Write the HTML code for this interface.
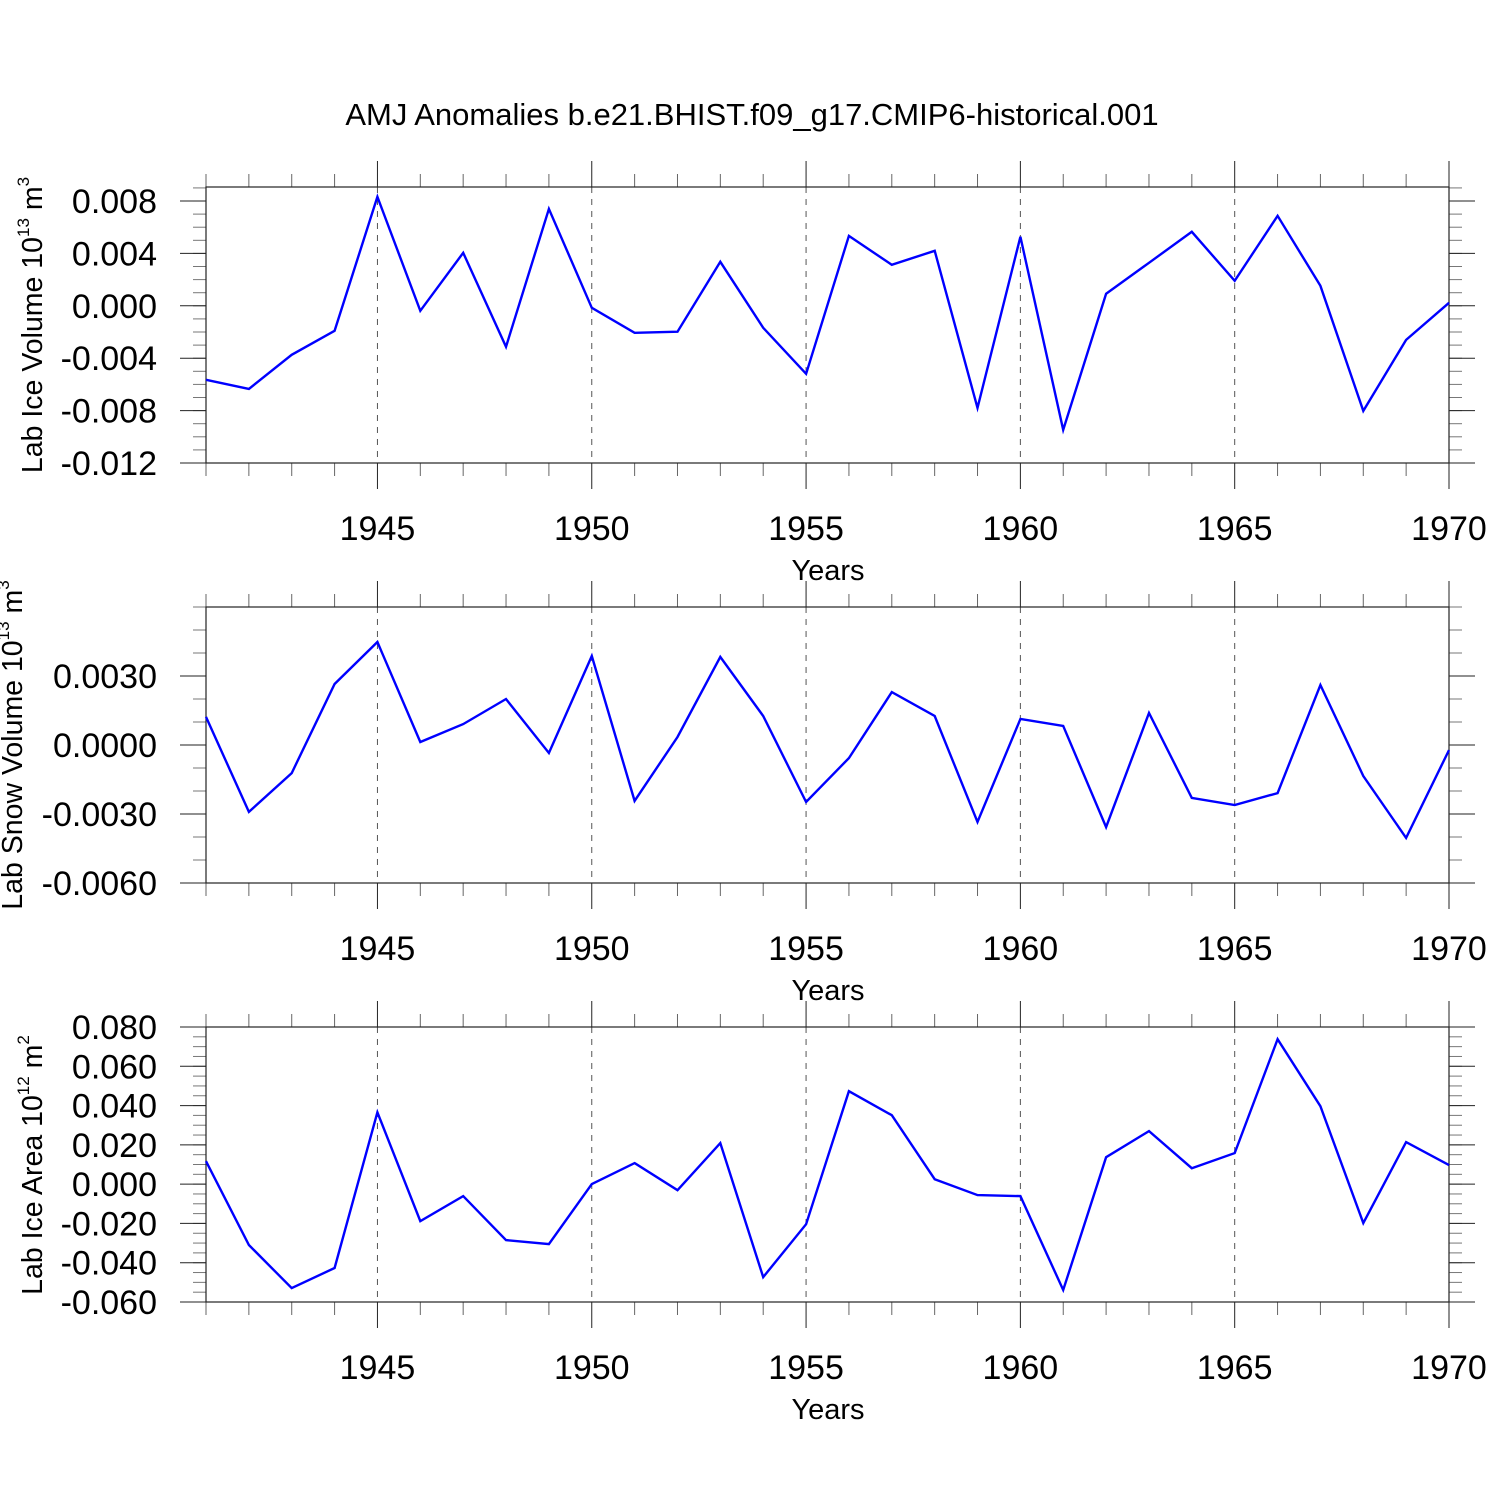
<!DOCTYPE html>
<html><head><meta charset="utf-8"><style>
html,body{margin:0;padding:0;background:#fff}
svg{display:block;font-family:"Liberation Sans",sans-serif}
</style></head><body>
<svg id="chart" width="1500" height="1500" viewBox="0 0 1500 1500">
<text x="752" y="125" font-size="31" text-anchor="middle">AMJ Anomalies b.e21.BHIST.f09_g17.CMIP6-historical.001</text>
</svg>
<script>
const years = [];
for (let y = 1941; y <= 1970; y++) years.push(y);
const iceVolume = [-0.00565,-0.00634,-0.00374,-0.00191,0.00832,-0.00038,0.00405,-0.00313,0.0074,-0.00015,-0.00206,-0.00198,0.00336,-0.00168,-0.00519,0.00534,0.00313,0.0042,-0.00779,0.00527,-0.00947,0.00092,0.00328,0.00565,0.00191,0.00687,0.00153,-0.00802,-0.0026,0.00023];
const snowVolume = [0.00122,-0.00291,-0.00122,0.00265,0.00448,0.00013,0.00091,0.002,-0.00035,0.00387,-0.00243,0.00035,0.00383,0.00126,-0.00248,-0.00057,0.0023,0.00126,-0.00335,0.00113,0.00083,-0.00357,0.00139,-0.0023,-0.00261,-0.00209,0.00261,-0.00135,-0.00404,-0.00022];
const iceArea = [0.0117,-0.031,-0.0529,-0.0427,0.0366,-0.0188,-0.0061,-0.0285,-0.0305,0,0.0107,-0.0031,0.0209,-0.0473,-0.0204,0.0473,0.0351,0.0025,-0.0056,-0.0061,-0.0539,0.0137,0.027,0.0081,0.0158,0.0738,0.0397,-0.0198,0.0214,0.0097];
const xTickLabels = ["1945","1950","1955","1960","1965","1970"];
const ticks1 = ["0.008","0.004","0.000","-0.004","-0.008","-0.012"];
const ticks2 = ["0.0030","0.0000","-0.0030","-0.0060"];
const ticks3 = ["0.080","0.060","0.040","0.020","0.000","-0.020","-0.040","-0.060"];

const NS = "http://www.w3.org/2000/svg";
const svg = document.getElementById('chart');
function mk(tag, attrs, parent) {
  const e = document.createElementNS(NS, tag);
  for (const k in attrs) e.setAttribute(k, attrs[k]);
  (parent || svg).appendChild(e);
  return e;
}
const X0 = 206, X1 = 1449, Y0 = 1941, Y1 = 1970;
const xs = v => X0 + (v - Y0) / (Y1 - Y0) * (X1 - X0);

const panels = [
  {top:187, bot:463, min:-0.012, max:0.00907, data:iceVolume, ticks:ticks1, minor:0.001, name:'ice-volume', label:'Lab Ice Volume 10', exp:'13', unit:' m', uexp:'3', ly:325, lx:42},
  {top:607, bot:883, min:-0.006, max:0.006, data:snowVolume, ticks:ticks2, minor:0.001, name:'snow-volume', label:'Lab Snow Volume 10', exp:'13', unit:' m', uexp:'3', ly:745, lx:22},
  {top:1027, bot:1302, min:-0.06, max:0.08, data:iceArea, ticks:ticks3, minor:0.005, name:'ice-area', label:'Lab Ice Area 10', exp:'12', unit:' m', uexp:'2', ly:1165, lx:42}
];

panels.forEach(p => {
  const g = mk('g', {});
  
  
  const ys = v => p.bot - (v - p.min) / (p.max - p.min) * (p.bot - p.top);
  for (let yr = 1945; yr < 1970; yr += 5) {
    const l = mk('line', {x1:xs(yr), x2:xs(yr), y1:p.top, y2:p.bot, stroke:'#555', 'stroke-width':1, 'stroke-dasharray':'6,6'}, g);
    
    
  }
  years.forEach(yr => {
    const maj = yr % 5 === 0;
    const len = maj ? 26 : 13;
    const x = xs(yr);
    mk('line', {x1:x, x2:x, y1:p.top - len, y2:p.top, stroke:maj?'#222':'#666', 'stroke-width':1}, g);
    mk('line', {x1:x, x2:x, y1:p.bot, y2:p.bot + len, stroke:maj?'#222':'#666', 'stroke-width':1}, g);
  });
  xTickLabels.forEach(t => {
    const tx = mk('text', {x:xs(+t), y:p.bot + 77, 'font-size':34, 'text-anchor':'middle'}, g);
    tx.textContent = t;
    
    
  });
  const yl = mk('text', {x:828, y:p.bot + 117, 'font-size':29, 'text-anchor':'middle'}, g);
  yl.textContent = 'Years';
  
  
  const n = Math.round((p.max - p.min) / p.minor);
  for (let i = 0; i <= n; i++) {
    const v = p.min + i * p.minor;
    const y = ys(v);
    if (y < p.top - 0.5) continue;
    mk('line', {x1:X0 - 13, x2:X0, y1:y, y2:y, stroke:'#777', 'stroke-width':1}, g);
    mk('line', {x1:X1, x2:X1 + 13, y1:y, y2:y, stroke:'#777', 'stroke-width':1}, g);
  }
  p.ticks.forEach(t => {
    const y = ys(+t);
    mk('line', {x1:X0 - 26, x2:X0, y1:y, y2:y, stroke:'#222', 'stroke-width':1}, g);
    mk('line', {x1:X1, x2:X1 + 26, y1:y, y2:y, stroke:'#222', 'stroke-width':1}, g);
    const tx = mk('text', {x:157, y:y + 12, 'font-size':34, 'text-anchor':'end'}, g);
    tx.textContent = t;
    
    
  });
  const fr = mk('rect', {x:X0, y:p.top, width:X1 - X0, height:p.bot - p.top, fill:'none', stroke:'#222', 'stroke-width':1.2}, g);
  
  
  const pts = p.data.map((v, i) => xs(years[i]).toFixed(1) + ',' + ys(v).toFixed(1)).join(' ');
  const line = mk('polyline', {points:pts, fill:'none', stroke:'#0000ff', 'stroke-width':2.4, 'stroke-linejoin':'miter'}, g);
  
  
  const t = mk('text', {x:0, y:0, 'font-size':28.5, 'text-anchor':'middle', transform:'translate(' + p.lx + ',' + p.ly + ') rotate(-90)'}, g);
  t.innerHTML = p.label + '<tspan dy="-13" font-size="17">' + p.exp + '</tspan><tspan dy="13">' + p.unit + '</tspan><tspan dy="-13" font-size="17">' + p.uexp + '</tspan>';
  
  
});
</script>
</body></html>
